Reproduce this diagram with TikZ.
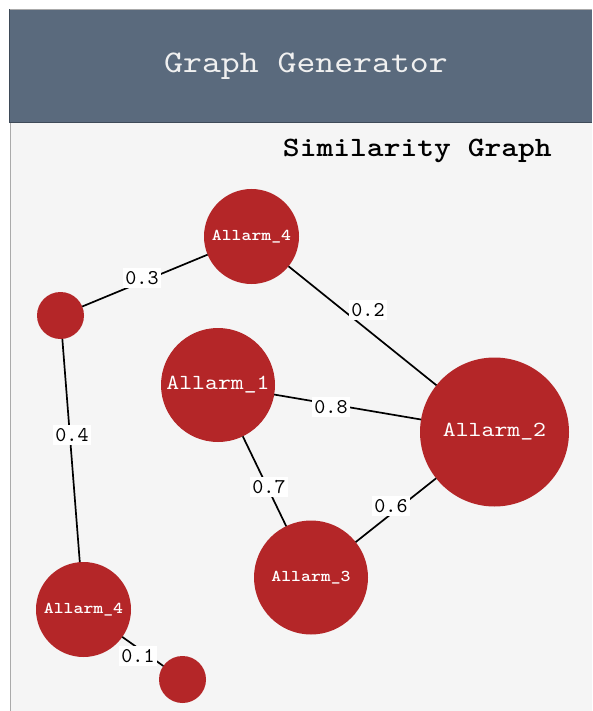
\documentclass[tikz,border=0pt]{standalone}
\usepackage{fontspec}
% Courier-like serif typewriter face, stretched to Courier advance widths
\newfontfamily\typeface{lmmono10-regular.otf}[BoldFont=lmmonolt10-bold.otf, FakeStretch=1.143]
\newfontfamily\weightface{lmmono10-regular.otf}
\definecolor{headerbg}{RGB}{90,106,125}
\definecolor{headerline}{RGB}{62,74,88}
\definecolor{panelbg}{RGB}{245,245,245}
\definecolor{panelline}{RGB}{170,170,170}
\definecolor{nodered}{RGB}{180,38,40}
\definecolor{titlefg}{RGB}{240,240,240}
\tikzset{
  alarm/.style={circle, fill=nodered, inner sep=0pt, outer sep=0pt,
    text=white, font=\typeface},
  bigalarm/.style={alarm, minimum size=114pt, font=\typeface\fontsize{21.5}{22}\selectfont},
  hugealarm/.style={alarm, minimum size=149pt, font=\typeface\fontsize{21.5}{22}\selectfont},
  midalarm/.style={alarm, minimum size=95pt, font=\typeface\bfseries\fontsize{16.5}{17}\selectfont},
  dotalarm/.style={alarm, minimum size=47pt},
  link/.style={draw=black, line width=1.7pt},
  weight/.style={fill=white, inner xsep=2pt, inner ysep=3pt,
    font=\weightface\fontsize{21}{22}\selectfont, text=black},
}
\begin{document}
\begin{tikzpicture}[x=1pt, y=-1pt]
  \useasboundingbox (0,0) rectangle (592,711);
  % page and panel
  \fill[white] (0,0) rectangle (592,711);
  \fill[panelbg] (10,123) rectangle (592,711);
  \draw[panelline, line width=1pt] (10.5,123) -- (10.5,711);
  % header band
  \fill[headerbg] (9.5,9.5) rectangle (592,123);
  \draw[panelline, line width=0.8pt] (9.5,9.5) -- (592,9.5);
  \draw[headerline, line width=1pt] (9.5,9.5) -- (9.5,123) -- (592,123);
  \node[anchor=base, text=titlefg, font=\typeface\fontsize{31.5}{32}\selectfont]
    (title) at (306,73) {Graph Generator};
  \node[anchor=base east, inner sep=0pt, font=\typeface\bfseries\fontsize{28}{29}\selectfont]
    (subtitle) at (552,157) {Similarity Graph};

  % alarm nodes
  \node[midalarm]  (a4top) at (251.5,236.5) {Allarm\_4};
  \node[dotalarm]  (dotA)  at (60.5,315.5)  {};
  \node[bigalarm]  (a1)    at (218,385)     {Allarm\_1};
  \node[hugealarm] (a2)    at (494.5,432)   {Allarm\_2};
  \node[bigalarm,  font=\typeface\bfseries\fontsize{16.5}{17}\selectfont]
                   (a3)    at (311,577.5)   {Allarm\_3};
  \node[midalarm]  (a4bot) at (83.5,609.5)  {Allarm\_4};
  \node[dotalarm]  (dotB)  at (182.5,679.5) {};

  % similarity links
  \draw[link] (dotA) -- (a4top);
  \draw[link] (dotA) -- (a4bot);
  \draw[link] (a4bot) -- (dotB);
  \draw[link] (a4top) -- (a2);
  \draw[link] (a1) -- (a2);
  \draw[link] (a1) -- (a3);
  \draw[link] (a3) -- (a2);

  % link weights
  \node[weight] (w03) at (142,278) {0.3};
  \node[weight] (w04) at (72,435)  {0.4};
  \node[weight] (w01) at (138,656) {0.1};
  \node[weight] (w02) at (368,310) {0.2};
  \node[weight] (w08) at (331,407) {0.8};
  \node[weight] (w07) at (269,487) {0.7};
  \node[weight] (w06) at (391,506) {0.6};
\end{tikzpicture}
\end{document}
